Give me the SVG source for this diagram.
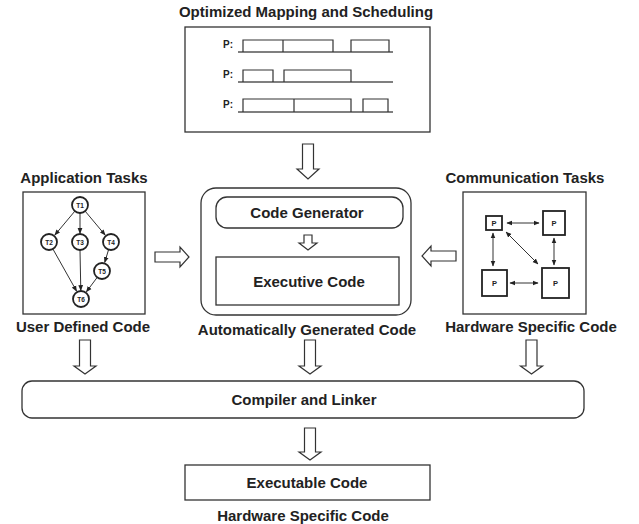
<svg xmlns="http://www.w3.org/2000/svg" width="639" height="524" viewBox="0 0 639 524">
  <style>
    .title { font-family: "Liberation Sans", Arial, sans-serif; font-weight: bold; font-size: 15px; fill: #222; text-anchor: middle; }
    .box { fill: #fff; stroke: #333; stroke-width: 1.3; }
    .blk { fill: #fff; stroke: #333; stroke-width: 1.2; }
    .lbl { font-family: "Liberation Sans", Arial, sans-serif; font-weight: bold; fill: #222; text-anchor: middle; }
    .node { fill: #fff; stroke: #222; stroke-width: 1.8; }
    .edge { stroke: #333; stroke-width: 1; fill: none; }
    .slot { fill: none; stroke: #333; stroke-width: 1.2; }
    .base { stroke: #555; stroke-width: 1.4; }
    .proc { fill: #fff; stroke: #222; stroke-width: 1.8; }
  </style>
  <defs>
    <marker id="ah" viewBox="0 0 10 10" refX="9" refY="5" markerWidth="6" markerHeight="6" orient="auto-start-reverse" markerUnits="userSpaceOnUse">
      <path d="M0,1 L10,5 L0,9 Z" fill="#222"/>
    </marker>
  </defs>
  <rect width="639" height="524" fill="#fff"/>

  <!-- Mapping and scheduling chart -->
  <g id="schedule">
    <text class="title" x="306" y="17" font-size="13.8">Optimized Mapping and Scheduling</text>
    <rect class="box" x="185" y="27" width="245" height="105"/>
    <g class="lbl" font-size="10">
      <text x="228" y="48">P:</text>
      <text x="228" y="78">P:</text>
      <text x="228" y="108">P:</text>
    </g>
    <line class="base" x1="238" y1="52" x2="393" y2="52"/>
    <path class="slot" d="M243,52 V40 H283 V52 M283,40 H333 V52 M351,52 V40 H389 V52"/>
    <line class="base" x1="238" y1="82" x2="393" y2="82" stroke="#222"/>
    <path class="slot" d="M243,82 V70 H273 V82 M284,82 V70 H351 V82"/>
    <line class="base" x1="238" y1="112" x2="393" y2="112"/>
    <path class="slot" d="M243,112 V99 H351 V112 M294,99 V112 M363,112 V99 H388 V112"/>
  </g>

  <!-- Application task graph -->
  <g id="application">
    <text class="title" x="84" y="183">Application Tasks</text>
    <rect class="box" x="23" y="192" width="122" height="122"/>
    <g class="edge" marker-end="url(#ah)">
      <line x1="74.9" y1="211.1" x2="54.8" y2="235.1"/>
      <line x1="80" y1="213" x2="80" y2="233.5"/>
      <line x1="85.1" y1="211.1" x2="105.2" y2="235.1"/>
      <line x1="52.9" y1="249" x2="76.6" y2="291.2"/>
      <line x1="80" y1="250" x2="80.8" y2="290.5"/>
      <line x1="108.6" y1="249.6" x2="104.7" y2="262.4"/>
      <line x1="97.2" y1="277.4" x2="86.4" y2="291.8"/>
    </g>
    <g class="node">
      <circle cx="80" cy="205" r="8"/>
      <circle cx="49" cy="242" r="8"/>
      <circle cx="80" cy="242" r="8"/>
      <circle cx="111" cy="242" r="8"/>
      <circle cx="102" cy="271" r="8"/>
      <circle cx="81" cy="299" r="8"/>
    </g>
    <g class="lbl" font-size="6.5">
      <text x="80" y="207.5">T1</text>
      <text x="49" y="244.5">T2</text>
      <text x="80" y="244.5">T3</text>
      <text x="111" y="244.5">T4</text>
      <text x="102" y="273.5">T5</text>
      <text x="81" y="301.5">T6</text>
    </g>
    <text class="title" x="83" y="332">User Defined Code</text>
  </g>

  <!-- Automatic code generation -->
  <g id="generation">
    <rect class="box" x="201" y="188" width="210" height="127" rx="15"/>
    <rect class="box" x="216" y="197" width="187" height="31" rx="11"/>
    <text class="title" x="307" y="218">Code Generator</text>
    <rect class="box" x="216" y="257" width="183" height="48"/>
    <text class="title" x="309" y="287">Executive Code</text>
    <text class="title" x="307" y="335">Automatically Generated Code</text>
  </g>

  <!-- Communication tasks -->
  <g id="communication">
    <text class="title" x="525" y="183">Communication Tasks</text>
    <rect class="box" x="463" y="192" width="123" height="122"/>
    <g class="edge" marker-start="url(#ah)" marker-end="url(#ah)">
      <line x1="507" y1="223" x2="539" y2="223"/>
      <line x1="493" y1="233" x2="493" y2="266"/>
      <line x1="506" y1="232" x2="538" y2="264"/>
      <line x1="554" y1="238" x2="554" y2="265"/>
      <line x1="510" y1="283" x2="538" y2="283"/>
    </g>
    <rect class="proc" x="486" y="216" width="16" height="14"/>
    <rect class="proc" x="543" y="211" width="22" height="24"/>
    <rect class="proc" x="482" y="270" width="25" height="26"/>
    <rect class="proc" x="542" y="268" width="27" height="30"/>
    <g class="lbl" font-size="7.5">
      <text x="494" y="226">P</text>
      <text x="554" y="226">P</text>
      <text x="494.5" y="286">P</text>
      <text x="555.5" y="286">P</text>
    </g>
    <text class="title" x="531" y="332">Hardware Specific Code</text>
  </g>

  <!-- Compiler and linker -->
  <g id="compiler">
    <rect class="box" x="22" y="381" width="562" height="37" rx="10"/>
    <text class="title" x="304" y="405" font-size="13.8">Compiler and Linker</text>
  </g>

  <!-- Executable output -->
  <g id="executable">
    <rect class="box" x="185" y="465" width="245" height="35"/>
    <text class="title" x="307" y="488">Executable Code</text>
    <text class="title" x="303" y="521" font-size="14.5">Hardware Specific Code</text>
  </g>

  <!-- Block arrows between stages -->
  <g id="connectors">
    <path class="blk" d="M302.5,144 H313.5 V169 H319 L308,179 L297,169 H302.5 Z"/>
    <path class="blk" d="M304,235 H312 V243 H317 L308,250 L299,243 H304 Z"/>
    <path class="blk" d="M155,252 H180 V247 L189,257 L180,267 V262 H155 Z"/>
    <path class="blk" d="M456,251 H431 V246 L422,256 L431,266 V261 H456 Z"/>
    <path class="blk" d="M79.5,340 H90.5 V366 H96 L85,374 L74,366 H79.5 Z"/>
    <path class="blk" d="M304.5,340 H315.5 V366 H321 L310,374 L299,366 H304.5 Z"/>
    <path class="blk" d="M526,340 H537 V366 H542.5 L531.5,374 L520.5,366 H526 Z"/>
    <path class="blk" d="M304.5,428 H315.5 V452 H321 L310,460 L299,452 H304.5 Z"/>
  </g>
</svg>
